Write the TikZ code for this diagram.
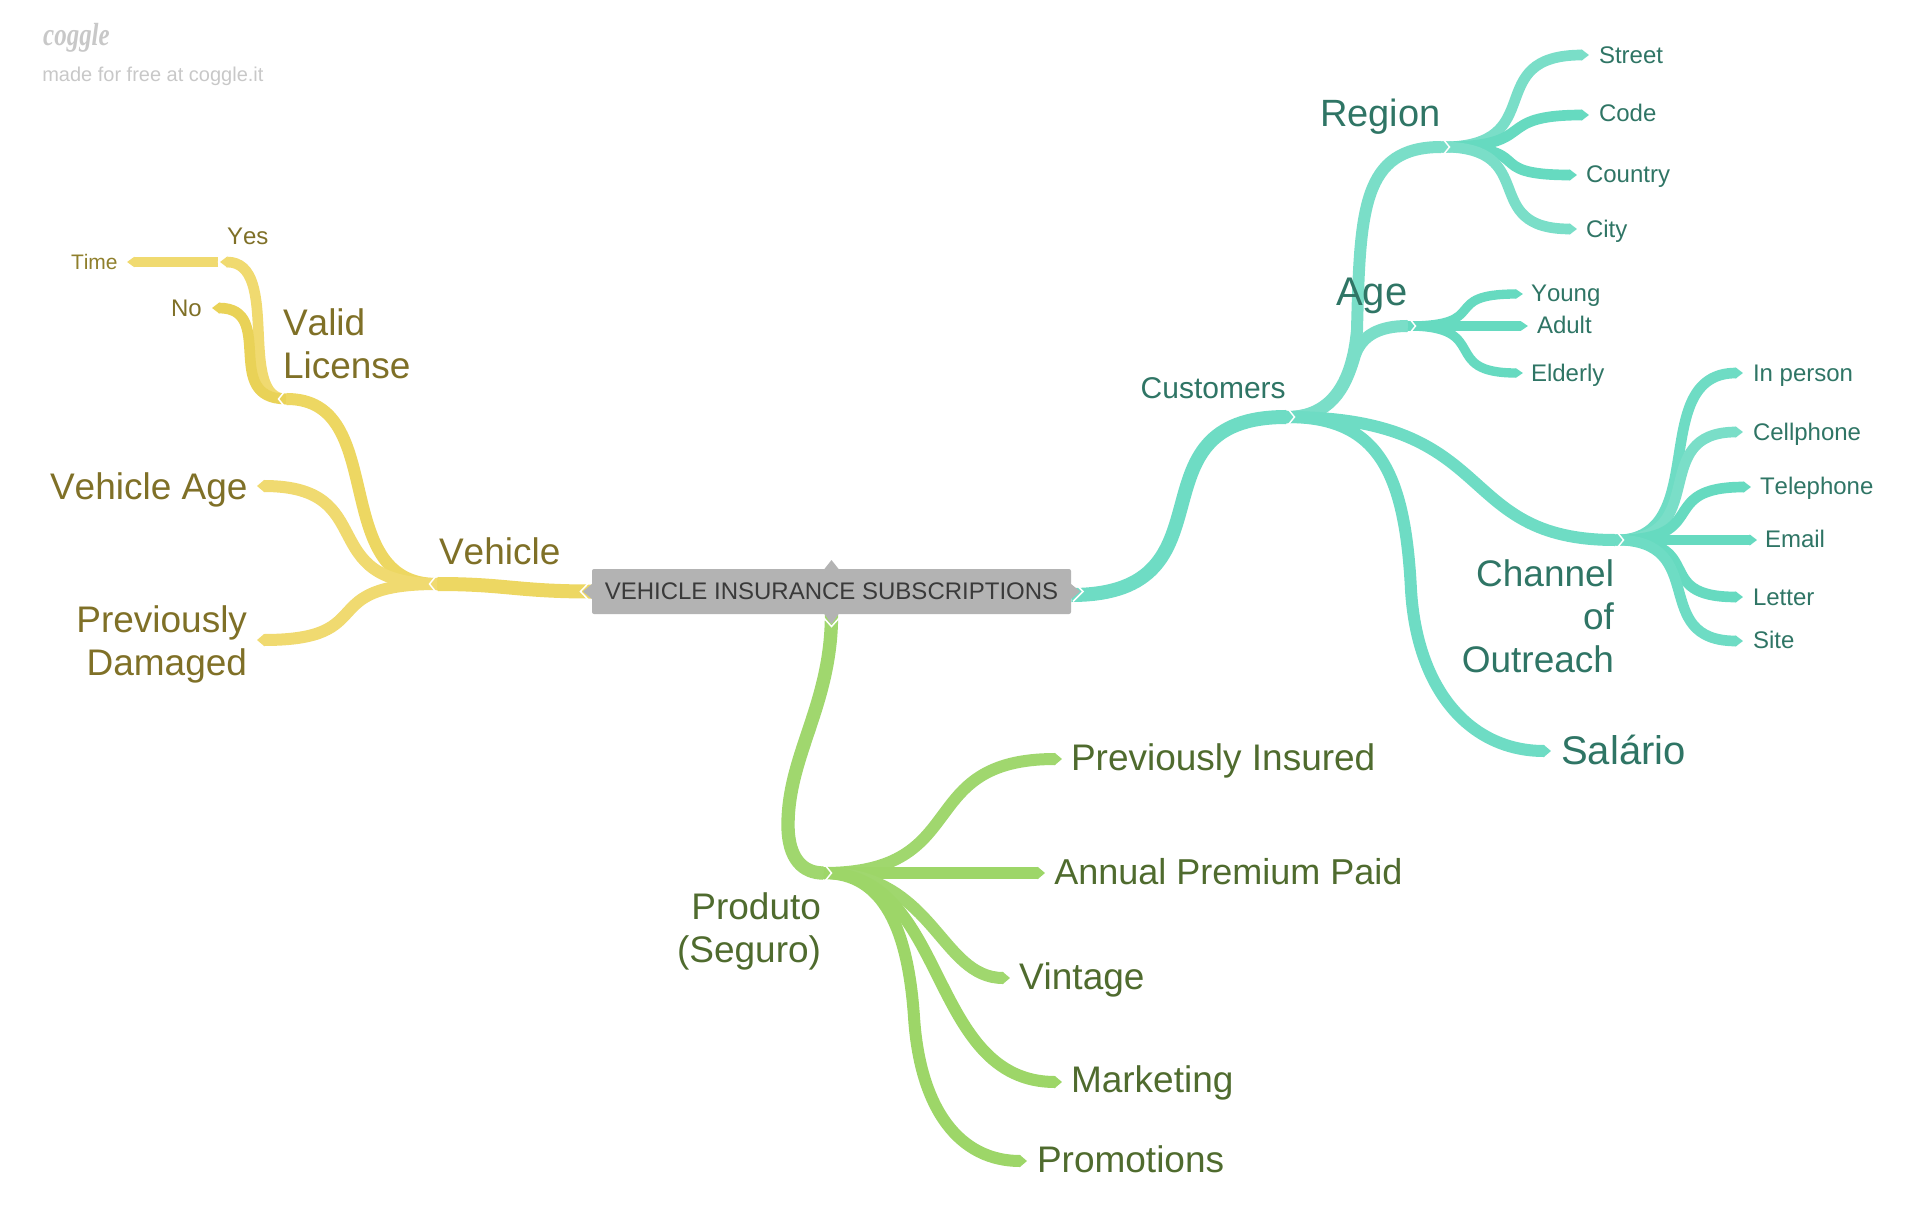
\documentclass[tikz,border=0pt]{standalone}
\usepackage{fontspec}
\setmainfont[Kerning=Off]{Liberation Sans}
\newfontfamily\logofont{Liberation Serif}
\usetikzlibrary{arrows.meta,calc,backgrounds}
\definecolor{tealA}{HTML}{6EDCC4}
\definecolor{tealB}{HTML}{7ADEC8}
\definecolor{tealC}{HTML}{66DAC0}
\definecolor{tealT}{HTML}{2F7565}
\definecolor{greenA}{HTML}{9DD668}
\definecolor{greenB}{HTML}{A0D76E}
\definecolor{greenT}{HTML}{4F6B2E}
\definecolor{yelA}{HTML}{EDD762}
\definecolor{yelB}{HTML}{F0DA70}
\definecolor{yelC}{HTML}{E9D257}
\definecolor{yelT}{HTML}{7F7027}
\definecolor{yelS}{HTML}{8F7F2C}
\definecolor{boxG}{HTML}{B3B3B3}
\definecolor{boxT}{HTML}{3A3A3A}
\definecolor{greyT}{HTML}{C8C8C8}
\newcommand\fpx[1]{\fontsize{\dimexpr#1pt*3/4\relax}{\dimexpr#1pt*7/8\relax}\selectfont}
\tikzset{
  x=0.75pt,y=-0.75pt,
  br/.style={line cap=butt,line join=round,-{Triangle[length=5.5pt,width=#1]},line width=#1},
  br/.default=7.5pt,
  chev/.style={draw=white,line width=1.1pt,line join=miter,fill=none},
  big/.style={font=\fpx{37},inner sep=0pt,outer sep=0pt},
  small/.style={font=\fpx{24},inner sep=0pt,outer sep=0pt},
  tinyl/.style={font=\fpx{21},inner sep=0pt,outer sep=0pt},
}
\newcommand\cv[5][]{\draw[#1] (#2) .. controls +(#4,0) and +(#5,0) .. (#3);}
\newcommand\chevR[1]{\draw[chev] ($(#1)+(-5,-8)$) -- ($(#1)+(1.5,0)$) -- ($(#1)+(-5,8)$);}
\newcommand\chevL[1]{\draw[chev] ($(#1)+(5,-8)$) -- ($(#1)+(-1.5,0)$) -- ($(#1)+(5,8)$);}
\begin{document}
\begin{tikzpicture}
\useasboundingbox (0,0) rectangle (1920,1231);
% central node
\node[fill=boxG,rounded corners=1.5pt,minimum width=359.25pt,minimum height=33.75pt,inner sep=0pt,text=boxT,font=\fpx{24}] (root) at (831.5,591.5) {VEHICLE INSURANCE SUBSCRIPTIONS};
% junctions and ends
\foreach \n/\a/\b in {
 cust/1293/417, custs/1287/417, region/1448/147, regions/1442/147, age/1414/326, ages/1408/326,
 chan/1622/540, chans/1616/540, street/1589/55, code/1589/115, country/1577/175, city/1577/229,
 young/1523/294, adult/1528/326, elderly/1523/373, inperson/1743/373, cell/1743/432, tele/1751/487,
 email/1757/540, letter/1743/597, site/1743/641, salario/1551/751,
 prod/830/873, prods/824/873, pins/1062/759, annual/1045/873, vintage/1010/978, marketing/1062/1082, promo/1027/1161,
 veh/431/584, vehs/437/584, valid/280/399, valids/286/399, vage/257/486, pdam/257/640,
 yes/220/262, yess/226/262, no/212/308, timeend/127/262}
 {\coordinate (\n) at (\a,\b);}
\begin{scope}[on background layer]
 % teal
 \cv[br=10.5pt,tealA]{$(root.east)+(0,3.5)$}{cust}{170}{-170}
 \draw[br=9pt,tealB] (custs) .. controls (1330,417) and (1352,385) .. (1357,330) .. controls (1360,210) and (1362,147) .. (region);
 \draw[br=9pt,tealB] (custs) .. controls (1330,417) and (1345,390) .. (1355,355) .. controls (1362,335) and (1380,326) .. (age);
 \cv[br=9pt,tealA]{custs}{chan}{215}{-170}
 \draw[br=9pt,tealA] (custs) .. controls +(90,0) and (1405,470) .. (1411,590) .. controls (1417,690) and (1470,751) .. (salario);
 \cv[br=8pt,tealB]{regions}{street}{110}{-110}
 \cv[br=8pt,tealC]{regions}{code}{100}{-100}
 \cv[br=8pt,tealC]{regions}{country}{100}{-100}
 \cv[br=8pt,tealB]{regions}{city}{100}{-100}
 \cv[br=7pt,tealC]{ages}{young}{85}{-85}
 \draw[br=7pt,tealC] (ages) -- (adult);
 \cv[br=7pt,tealC]{ages}{elderly}{85}{-85}
 \cv[br=8pt,tealA]{chans}{inperson}{97}{-97}
 \cv[br=8pt,tealB]{chans}{cell}{97}{-97}
 \cv[br=8pt,tealC]{chans}{tele}{97}{-97}
 \draw[br=8pt,tealC] (chans) -- (email);
 \cv[br=8pt,tealC]{chans}{letter}{95}{-95}
 \cv[br=8pt,tealA]{chans}{site}{95}{-95}
 % green
 \draw[br=10pt,greenB] (root.south) .. controls +(0,90) and +(0,-70) .. (788,825) .. controls +(0,35) and +(-26,0) .. (prod);
 \cv[br=9pt,greenB]{prods}{pins}{150}{-150}
 \draw[br=9pt,greenA] (prods) -- (annual);
 \cv[br=9pt,greenB]{prods}{vintage}{110}{-70}
 \cv[br=9pt,greenA]{prods}{marketing}{125}{-135}
 \draw[br=9pt,greenA] (prods) .. controls +(60,0) and (908,930) .. (914,1017) .. controls (920,1110) and (960,1161) .. (promo);
 % yellow
 \cv[br=10.5pt,yelA]{root.west}{veh}{-75}{75}
 \cv[br=9pt,yelA]{vehs}{valid}{-110}{110}
 \cv[br=9pt,yelB]{vehs}{vage}{-125}{125}
 \cv[br=9pt,yelB]{vehs}{pdam}{-125}{125}
 \cv[br=8pt,yelB]{valids}{yes}{-50}{62}
 \cv[br=8pt,yelC]{valids}{no}{-65}{65}
 \draw[br=7.5pt,yelB] ($(yes)+(-2,0)$) -- (timeend);
\end{scope}
% pointers of the central node
\fill[boxG] (824,569.5) -- (831.5,560) -- (839,569.5) -- cycle;
\fill[boxG] (824,613.5) -- (831.5,624) -- (839,613.5) -- cycle;
\fill[boxG] (592.5,583.5) -- (583,591.5) -- (592.5,599.5) -- cycle;
\fill[boxG] (1070.5,583.5) -- (1080,591.5) -- (1070.5,599.5) -- cycle;
\draw[chev] (823,617) -- (831.5,626.5) -- (840,617);
\draw[chev] (590,581.5) -- (580.5,591.5) -- (590,601.5);
\draw[chev] (1073,581.5) -- (1083,591.5) -- (1073,601.5);
% chevrons at junctions
\chevR{cust}\chevR{region}\chevR{age}\chevR{chan}\chevR{prod}
\chevL{veh}\chevL{valid}\chevL{yes}
% teal labels
\node[font=\fpx{38},inner sep=0pt,text=tealT,anchor=base west] (tRegion) at (1320,126) {Region};
\node[small,text=tealT,anchor=base west] (tStreet) at (1599,64) {Street};
\node[small,text=tealT,anchor=base west] (tCode) at (1599,122) {Code};
\node[small,text=tealT,anchor=base west] (tCountry) at (1586,182) {Country};
\node[small,text=tealT,anchor=base west] (tCity) at (1586,237) {City};
\node[font=\fpx{40},inner sep=0pt,text=tealT,anchor=base west] (tAge) at (1336,305) {Age};
\node[small,text=tealT,anchor=base west] (tYoung) at (1531,301) {Young};
\node[small,text=tealT,anchor=base west] (tAdult) at (1537,333) {Adult};
\node[small,text=tealT,anchor=base west] (tElderly) at (1531,381) {Elderly};
\node[font=\fpx{30},inner sep=0pt,text=tealT,anchor=base east] (tCustomers) at (1286,398) {Customers};
\node[big,text=tealT,anchor=base east] (tCh1) at (1614,586) {Channel};
\node[big,text=tealT,anchor=base east] (tCh2) at (1614,629) {of};
\node[big,text=tealT,anchor=base east] (tCh3) at (1614,672) {Outreach};
\node[small,text=tealT,anchor=base west] (tInperson) at (1753,381) {In person};
\node[small,text=tealT,anchor=base west] (tCell) at (1753,440) {Cellphone};
\node[small,text=tealT,anchor=base west] (tTele) at (1760,494) {Telephone};
\node[small,text=tealT,anchor=base west] (tEmail) at (1765,547) {Email};
\node[small,text=tealT,anchor=base west] (tLetter) at (1753,605) {Letter};
\node[small,text=tealT,anchor=base west] (tSite) at (1753,648) {Site};
\node[font=\fpx{40},inner sep=0pt,text=tealT,anchor=base west] (tSalario) at (1561,764) {Salário};
% green labels
\node[big,text=greenT,anchor=base west] (tPins) at (1071,770) {Previously Insured};
\node[font=\fpx{36},inner sep=0pt,text=greenT,anchor=base west] (tAnnual) at (1054,884) {Annual Premium Paid};
\node[big,text=greenT,anchor=base west] (tVintage) at (1019,989) {Vintage};
\node[big,text=greenT,anchor=base west] (tMarketing) at (1071,1092) {Marketing};
\node[big,text=greenT,anchor=base west] (tPromo) at (1037,1172) {Promotions};
\node[big,text=greenT,anchor=base east] (tProd1) at (821,919) {Produto};
\node[big,text=greenT,anchor=base east] (tProd2) at (821,962) {(Seguro)};
% yellow labels
\node[big,text=yelT,anchor=base west] (tVehicle) at (439,564) {Vehicle};
\node[big,text=yelT,anchor=base east] (tVage) at (247.5,499) {Vehicle Age};
\node[big,text=yelT,anchor=base east] (tPd1) at (247,632) {Previously};
\node[big,text=yelT,anchor=base east] (tPd2) at (247,675) {Damaged};
\node[big,text=yelT,anchor=base west] (tValid) at (283,335) {Valid};
\node[big,text=yelT,anchor=base west] (tLicense) at (283,378) {License};
\node[small,text=yelT,anchor=base west] (tYes) at (227,244) {Yes};
\node[small,text=yelT,anchor=base west] (tNo) at (171,316) {No};
\node[tinyl,text=yelS,anchor=base west] (tTime) at (71,269) {Time};
% watermark
\node[inner sep=0pt,text=greyT,anchor=base west,xscale=.78,font=\logofont\itshape\bfseries\fontsize{24pt}{26pt}\selectfont] (logo) at (43,46) {coggle};
\node[inner sep=0pt,text=greyT,anchor=base west,font=\fpx{20}] (made) at (42,82) {made for free at coggle.it};
\end{tikzpicture}
\end{document}
